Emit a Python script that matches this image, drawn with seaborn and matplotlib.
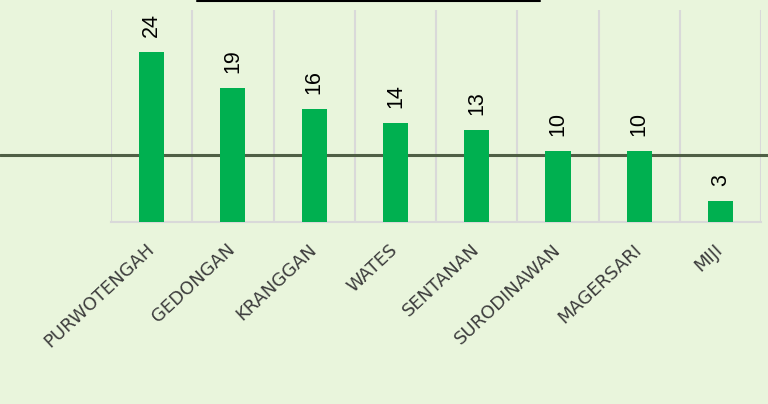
import numpy as np
import pandas as pd
import matplotlib
matplotlib.use("Agg")
import matplotlib.pyplot as plt
import matplotlib.transforms as mtransforms
import seaborn as sns

desa = ["PURWOTENGAH", "GEDONGAN", "KRANGGAN", "WATES", "SENTANAN",
        "SURODINAWAN", "MAGERSARI", "MIJI"]
jumlah = [24, 19, 16, 14, 13, 10, 10, 3]
garis_ref = 9.5

df = pd.DataFrame({"desa": desa, "jumlah": jumlah})

bg = "#E9F5DC"
sns.set_style("white", {"axes.facecolor": bg, "figure.facecolor": bg})

fig = plt.figure(figsize=(7.68, 4.04), dpi=100)
ax = fig.add_axes([0.1445, 0.4505, 0.8465, 0.5245])

sns.barplot(data=df, x="desa", y="jumlah", color="#00B050", width=0.31,
            saturation=1, edgecolor="none", linewidth=0, ax=ax, zorder=3)

ax.set_ylim(0, 30)
ax.set_xlim(-0.5, len(desa) - 0.5)

# garis pemisah antar kategori
for xb in np.arange(-0.5, len(desa)):
    ax.axvline(xb, color="#D9D9D9", linewidth=1.5, zorder=0)
ax.set_yticks([])

for s in ["top", "left", "right"]:
    ax.spines[s].set_visible(False)
ax.spines["bottom"].set_color("#D9D9D9")
ax.spines["bottom"].set_linewidth(1.5)

ax.set_xlabel("")
ax.set_ylabel("")
ax.set_xticks(range(len(desa)))
ax.set_xticklabels(desa, rotation=43, ha="right", va="center",
                   rotation_mode="anchor", fontsize=13, color="#3C3C3C")
ax.tick_params(axis="x", length=0, pad=18)

ax.bar_label(ax.containers[0], rotation=90, padding=11, fontsize=15.5,
             color="black", family="Liberation Sans")

# garis referensi selebar gambar
trans = mtransforms.blended_transform_factory(fig.transFigure, ax.transData)
ax.plot([0, 1], [garis_ref, garis_ref], transform=trans, color="#4F5F45",
        linewidth=2.2, clip_on=False, zorder=2)

fig.add_artist(plt.Line2D([197 / 768, 540 / 768], [0.997, 0.997],
                          color="black", linewidth=1.5))

fig.savefig("out.png", dpi=100, facecolor=bg)
